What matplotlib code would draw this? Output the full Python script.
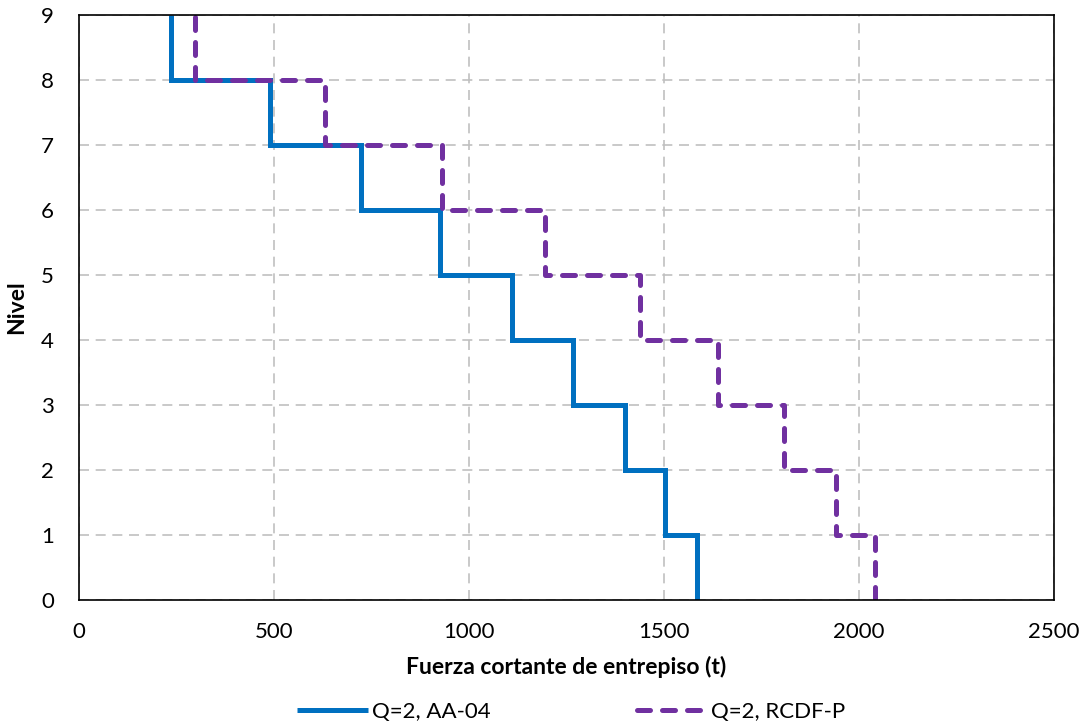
import numpy as np
import matplotlib.pyplot as plt

plt.rcParams['font.family'] = ['Lato', 'DejaVu Sans']

# story shear per story, story 1 (bottom) .. story 9 (top)
niveles = np.arange(0, 10)
v_aa04 = [1585, 1503, 1400, 1267, 1110, 926, 722, 491, 235]
v_rcdf = [2041, 1941, 1808, 1638, 1438, 1195, 931, 632, 298]

x_ticks = [0, 500, 1000, 1500, 2000, 2500]


def escalera(v):
    # vertical segment for each story, horizontal jump at each floor level
    x = np.repeat(v, 2)
    y = np.repeat(niveles, 2)[1:-1]
    return x, y


fig = plt.figure(figsize=(10.86, 7.28), dpi=100)
ax = fig.add_axes([0.0727, 0.1758, 0.8978, 0.8036])

x1, y1 = escalera(v_aa04)
x2, y2 = escalera(v_rcdf)
ax.plot(x1, y1, color='#0070c0', lw=3.6, label='Q=2, AA-04',
        solid_capstyle='butt', solid_joinstyle='miter')
ax.plot(x2, y2, color='#7030a0', lw=3.6, label='Q=2, RCDF-P',
        dashes=(2.6, 2.4), dash_capstyle='round', dash_joinstyle='round')

ax.set_xlim(0, 2500)
ax.set_ylim(0, 9)
ax.set_xticks(x_ticks)
ax.set_yticks(niveles)
ax.grid(True, color='#c0c0c0', ls=(0, (6, 4)), lw=1.2)
ax.set_axisbelow(True)
ax.tick_params(length=0, labelsize=16, pad=16)
ax.tick_params(axis='y', pad=18)
for s in ax.spines.values():
    s.set_color('black')
    s.set_linewidth(1.2)

ax.set_xlabel('Fuerza cortante de entrepiso (t)', fontsize=16.5, fontweight='bold', labelpad=10)
ax.set_ylabel('Nivel', fontsize=16.5, fontweight='bold', labelpad=10)

fig.legend(loc='center', bbox_to_anchor=(0.526, 1 - 712 / 728), ncol=2, frameon=False,
           fontsize=16, handlelength=3.2, handletextpad=0.15, columnspacing=6.6)

fig.savefig('out.png', dpi=100)
